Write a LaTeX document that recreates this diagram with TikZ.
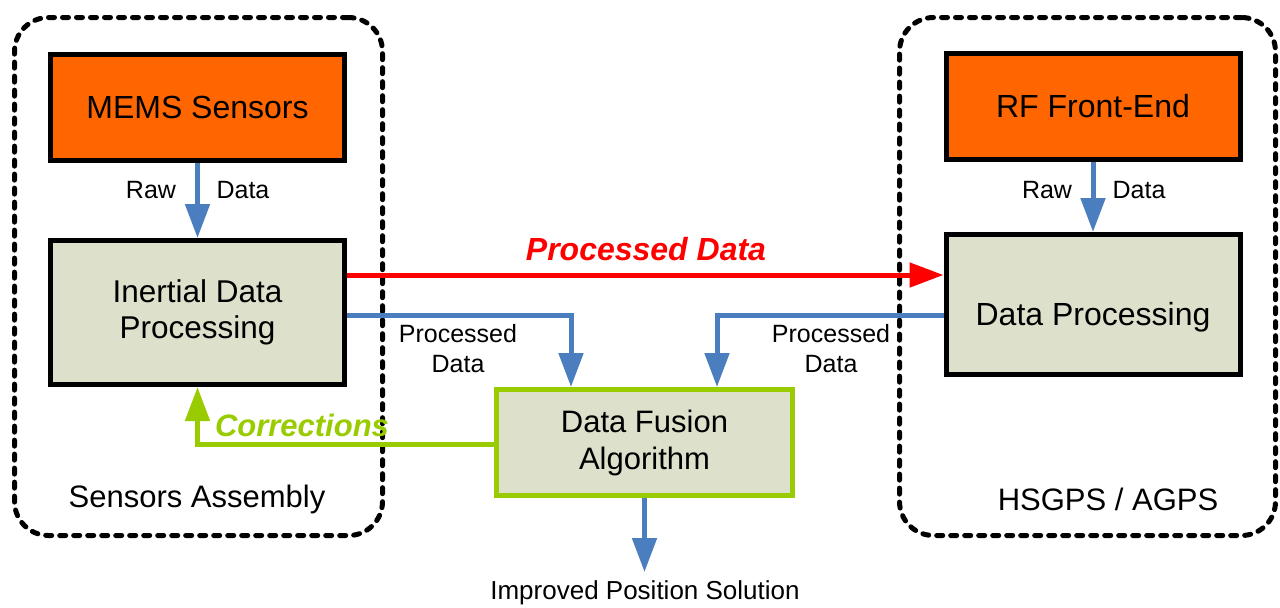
\documentclass[tikz,border=0pt]{standalone}
\usepackage{fontspec}
\setmainfont{Liberation Sans}
\usetikzlibrary{arrows.meta,positioning}
\usetikzlibrary{calc}

\definecolor{memsorange}{HTML}{FF6600}
\definecolor{procfill}{HTML}{DDE0CB}
\definecolor{flowblue}{HTML}{4A7EBF}
\definecolor{corrgreen}{HTML}{99CC00}

\begin{document}
\begin{tikzpicture}[
    x=0.5pt, y=-0.5pt,
    group/.style={draw,line width=2.5pt,dash pattern=on 3pt off 4pt,line cap=round,rounded corners=17pt},
    hwbox/.style={draw,line width=2.5pt,fill=memsorange,minimum width=147pt,minimum height=53pt,font=\fontsize{16}{19}\selectfont},
    procbox/.style={draw,line width=2.5pt,fill=procfill,minimum width=147pt,align=center},
    flow/.style={-{Triangle[length=17pt,width=12pt]},flowblue,line width=2.5pt},
    small/.style={font=\fontsize{12.5}{15}\selectfont,align=center},
]
\useasboundingbox (0,0) rectangle (1280,607);

%----------------------------------
% Groups
%----------------------------------

\node[group,minimum width=184pt,minimum height=259pt] (sensGrp) at (198.5,276.5) {};
\node[group,minimum width=188pt,minimum height=259pt] (gpsGrp) at (1087.5,276.5) {};

\node[font=\fontsize{15.5}{17}\selectfont] (sensLbl) at (197,499) {Sensors Assembly};
\node[font=\fontsize{15.5}{17}\selectfont] (gpsLbl) at (1108,499) {HSGPS / AGPS};

%----------------------------------
% Boxes
%----------------------------------

\node[hwbox] (mems) at (197.5,107.5) {MEMS Sensors};
\node[procbox,minimum height=72pt,font=\fontsize{15.75}{18}\selectfont] (inertial) at (197.5,312.5) {Inertial Data\\Processing};

\node[hwbox] (rf) at (1093,106) {RF Front-End};
\node[procbox,minimum height=70pt,text height=21pt,text depth=0pt,font=\fontsize{16}{19}\selectfont] (dataProc) at (1093,304.5) {Data Processing};

\node[procbox,draw=corrgreen,minimum width=148pt,minimum height=53pt,font=\fontsize{15.5}{18.5}\selectfont] (fusion) at (644.5,442.5) {Data Fusion\\Algorithm};

\coordinate (solution) at (644.5,572);

%----------------------------------
% Connectors
%----------------------------------

\draw[flow] (mems) -- (inertial);
\draw[flow] (rf) -- (dataProc);

\node[small] (rawL) at (151,190) {Raw};
\node[small] (dataL) at (243,190) {Data};
\node[small] (rawR) at (1047,190) {Raw};
\node[small] (dataR) at (1139,190) {Data};

\draw[-{Triangle[length=17pt,width=12pt]},red,line width=2.5pt]
    (inertial.east |- 0,275) -- (dataProc.west |- 0,275);
\node[red,font=\bfseries\itshape\fontsize{16}{17}\selectfont] (procRed) at (646,249) {Processed Data};

\draw[flow] (inertial.east |- 0,315) -| ($(fusion.north)+(-73.5,0)$);
\draw[flow] (dataProc.west |- 0,315) -| ($(fusion.north)+(72.5,0)$);

\node[small] (procL) at (458,349) {Processed\\Data};
\node[small] (procR) at (831,349) {Processed\\Data};

\draw[-{Triangle[length=17pt,width=12pt]},corrgreen,line width=2.5pt]
    (fusion.west |- 0,444) -| (inertial.south);
\node[corrgreen,font=\bfseries\itshape\fontsize{15.5}{16}\selectfont] (corr) at (302,425) {Corrections};

\draw[flow] (fusion) -- (solution);
\node[small,font=\fontsize{13}{15}\selectfont] (solLbl) at (645,593) {Improved Position Solution};

\end{tikzpicture}
\end{document}
